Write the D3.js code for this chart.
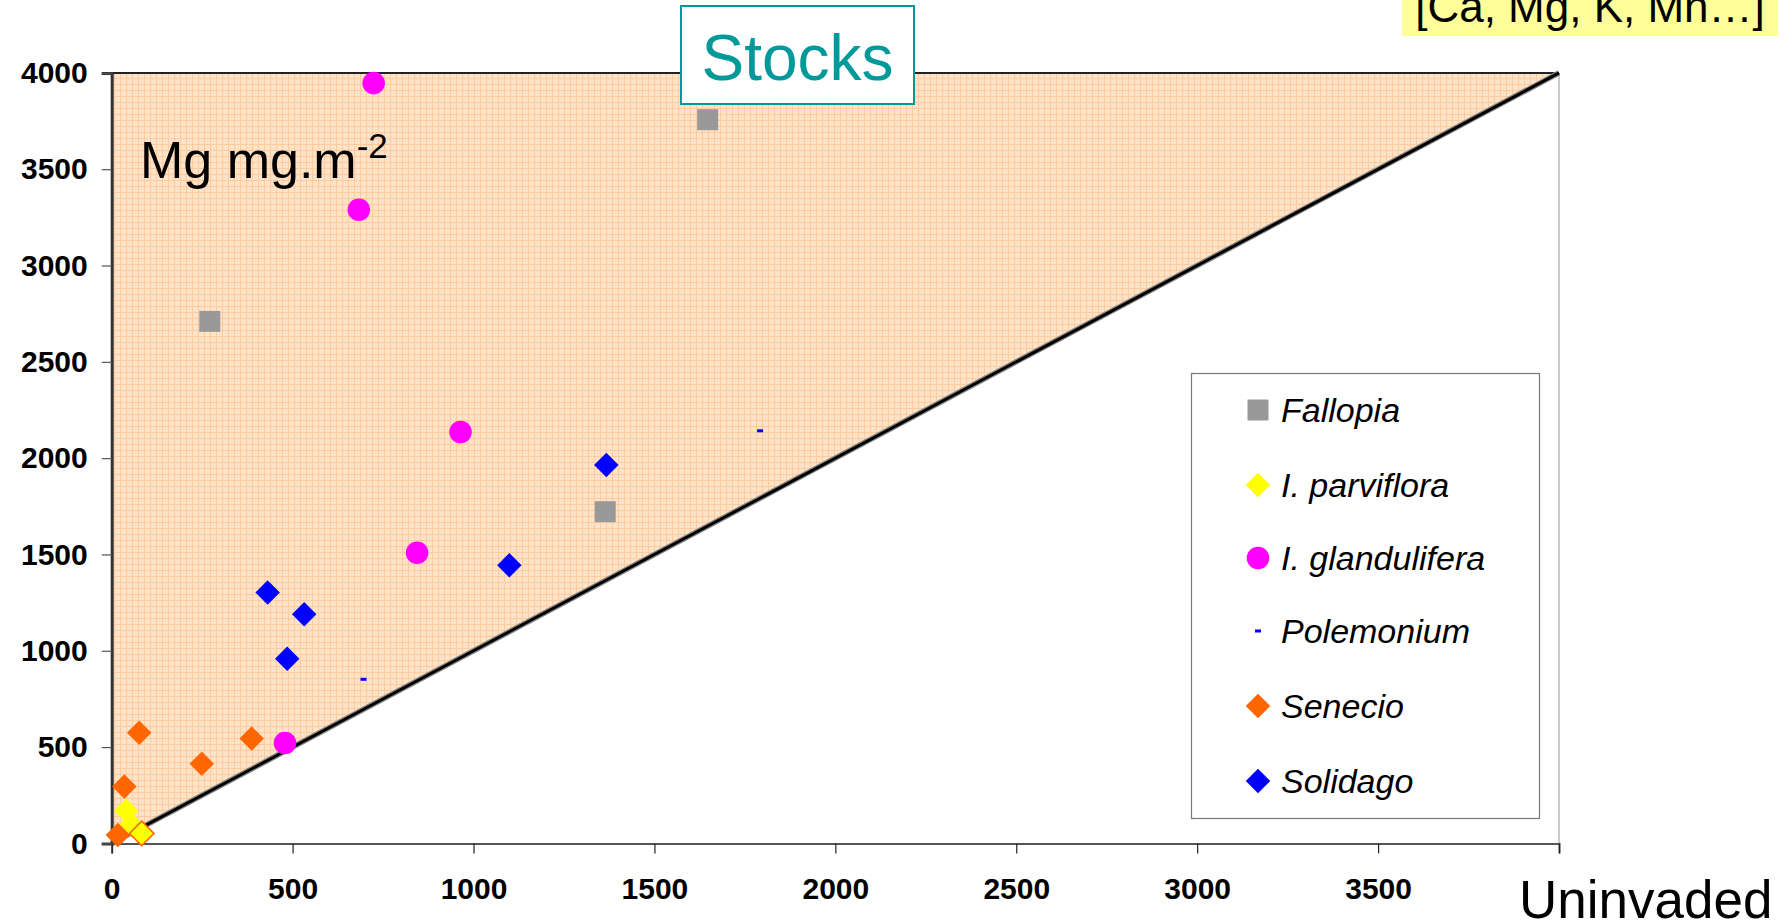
<!DOCTYPE html>
<html>
<head>
<meta charset="utf-8">
<script src="https://cdn.jsdelivr.net/npm/d3@7"></script>
<style>
  html, body { margin: 0; padding: 0; background: #fff; }
  svg { display: block; font-family: "Liberation Sans", Arial, sans-serif; }
</style>
</head>
<body>
<svg id="chart" width="1787" height="923"></svg>
<script>
// Magnesium stocks (mg.m-2): uninvaded plot (x) vs invaded plot (y)
const fallopia = [[1647, 3757], [271, 2710], [1364, 1722]];
const parviflora = [[40, 170], [55, 95]];
const parvifloraOutlined = [[83, 52]];
const glandulifera = [[724, 3947], [683, 3290], [964, 2136], [844, 1509], [479, 521]];
const polemonium = [[1792, 2142], [696, 852]];
const senecio = [[76, 574], [387, 544], [249, 414], [35, 296], [17, 44]];
const solidago = [[1367, 1964], [1099, 1444], [431, 1302], [532, 1189], [485, 959]];

const xTicks = [0, 500, 1000, 1500, 2000, 2500, 3000, 3500];
const yTicks = [0, 500, 1000, 1500, 2000, 2500, 3000, 3500, 4000];
const legendNames = ["Fallopia", "I. parviflora", "I. glandulifera", "Polemonium", "Senecio", "Solidago"];

const svg = d3.select("#chart");
const x = d3.scaleLinear().domain([0, 4000]).range([111.7, 1559]);
const y = d3.scaleLinear().domain([0, 4000]).range([843.4, 72.9]);

// hatched peach fill pattern
const defs = svg.append("defs");
const pat = defs.append("pattern").attr("id", "grid").attr("patternUnits", "userSpaceOnUse")
  .attr("width", 6).attr("height", 6);
pat.append("rect").attr("width", 6).attr("height", 6).attr("fill", "#FEE3C8");
pat.append("path").attr("d", "M0,0.5H6M0.5,0V6").attr("stroke", "#FCCB9E").attr("stroke-width", 1);

// region above the 1:1 line
svg.append("path")
  .attr("d", d3.line()([[x(0), y(0)], [x(0), y(4000)], [x(4000), y(4000)]]) + "Z")
  .attr("fill", "url(#grid)");

// plot frame: top and right edges
svg.append("line").attr("x1", x(0)).attr("x2", x(4000)).attr("y1", y(4000)).attr("y2", y(4000))
  .attr("stroke", "#222").attr("stroke-width", 2);
svg.append("line").attr("x1", x(4000)).attr("x2", x(4000)).attr("y1", y(4000)).attr("y2", y(0))
  .attr("stroke", "#999").attr("stroke-width", 1);

// 1:1 line
svg.append("line").attr("x1", x(0)).attr("y1", y(0)).attr("x2", x(4000)).attr("y2", y(4000))
  .attr("stroke", "#888").attr("stroke-width", 5.5);
svg.append("line").attr("x1", x(0)).attr("y1", y(0)).attr("x2", x(4000)).attr("y2", y(4000))
  .attr("stroke", "#000").attr("stroke-width", 3);

// axes
const yAxis = svg.append("g").attr("transform", `translate(${x(0)},0)`)
  .call(d3.axisLeft(y).tickValues(yTicks).tickSize(10).tickPadding(14).tickFormat(d3.format("d")));
yAxis.select(".domain").attr("stroke", "#333").attr("stroke-width", 3);
yAxis.selectAll(".tick line").attr("stroke", "#555").attr("stroke-width", 1.2);
yAxis.selectAll("text").attr("font-size", 30).attr("font-weight", "bold").attr("fill", "#000")
  .attr("font-family", "Liberation Sans, Arial, sans-serif");

const xAxis = svg.append("g").attr("transform", `translate(0,${y(0)})`)
  .call(d3.axisBottom(x).tickValues(xTicks.concat([4000])).tickSize(10).tickPadding(24)
    .tickFormat(d => d === 4000 ? "" : d));
xAxis.select(".domain").attr("stroke", "#555").attr("stroke-width", 2);
xAxis.selectAll(".tick line").attr("stroke", "#222").attr("stroke-width", 1.2);
xAxis.selectAll("text").attr("font-size", 30).attr("font-weight", "bold").attr("fill", "#000")
  .attr("font-family", "Liberation Sans, Arial, sans-serif");

// markers
const diamond = d3.symbol().type(d3.symbolSquare).size(300)();
const square = d3.symbol().type(d3.symbolSquare).size(440)();
const circle = d3.symbol().type(d3.symbolCircle).size(400)();

function drawSeries(data, path, fill, rotate, stroke) {
  svg.append("g").selectAll("path").data(data).join("path")
    .attr("d", path)
    .attr("transform", d => `translate(${x(d[0])},${y(d[1])})` + (rotate ? " rotate(45)" : ""))
    .attr("fill", fill)
    .attr("stroke", stroke || "none")
    .attr("stroke-width", stroke ? 1.5 : 0);
}

drawSeries(fallopia, square, "#999999", false);
drawSeries(parviflora, diamond, "#FFFF00", true);
drawSeries(glandulifera, circle, "#FF00FF", false);
svg.append("g").selectAll("rect").data(polemonium).join("rect")
  .attr("x", d => x(d[0]) - 3).attr("y", d => y(d[1]) - 1.5)
  .attr("width", 6).attr("height", 3).attr("fill", "#0000FF");
drawSeries(senecio, diamond, "#FF6600", true);
drawSeries(solidago, diamond, "#0000FF", true);
drawSeries(parvifloraOutlined, diamond, "#FFFF00", true, "#FF6600");

// unit label
const unit = svg.append("text").attr("x", 140).attr("y", 178).attr("font-size", 52).attr("fill", "#000");
unit.append("tspan").text("Mg mg.m");
unit.append("tspan").attr("font-size", 35).attr("dy", -20).text("-2");

// title box
svg.append("rect").attr("x", 681).attr("y", 6).attr("width", 233).attr("height", 98)
  .attr("fill", "#fff").attr("stroke", "#009999").attr("stroke-width", 2);
svg.append("text").attr("x", 797.5).attr("y", 80).attr("text-anchor", "middle")
  .attr("font-size", 64).attr("fill", "#009999").text("Stocks");

// element box, top right
svg.append("rect").attr("x", 1402).attr("y", -2).attr("width", 376).attr("height", 38).attr("fill", "#FFFF99");
svg.append("text").attr("x", 1590).attr("y", 22).attr("text-anchor", "middle")
  .attr("font-size", 44).attr("fill", "#000").text("[Ca, Mg, K, Mn…]");

// x-axis title
svg.append("text").attr("x", 1519).attr("y", 918).attr("font-size", 53).attr("fill", "#000").text("Uninvaded");

// legend
const lg = svg.append("g");
lg.append("rect").attr("x", 1191.5).attr("y", 373.5).attr("width", 348).attr("height", 445)
  .attr("fill", "#fff").attr("stroke", "#777").attr("stroke-width", 1.2);
const legendRows = [410, 485, 558, 631, 706, 781];
const legendMarks = [
  {path: square, fill: "#999999", rot: false},
  {path: diamond, fill: "#FFFF00", rot: true},
  {path: circle, fill: "#FF00FF", rot: false},
  {rect: true, fill: "#0000FF"},
  {path: diamond, fill: "#FF6600", rot: true},
  {path: diamond, fill: "#0000FF", rot: true}
];
legendNames.forEach((name, i) => {
  const m = legendMarks[i];
  const cy = legendRows[i];
  if (m.rect) {
    lg.append("rect").attr("x", 1258 - 3).attr("y", cy - 1.5).attr("width", 6).attr("height", 3).attr("fill", m.fill);
  } else {
    lg.append("path").attr("d", m.path).attr("fill", m.fill)
      .attr("transform", `translate(1258,${cy})` + (m.rot ? " rotate(45)" : ""));
  }
  lg.append("text").attr("x", 1281).attr("y", cy + 12).attr("font-size", 34)
    .attr("font-style", "italic").attr("fill", "#000").text(name);
});
</script>
</body>
</html>
